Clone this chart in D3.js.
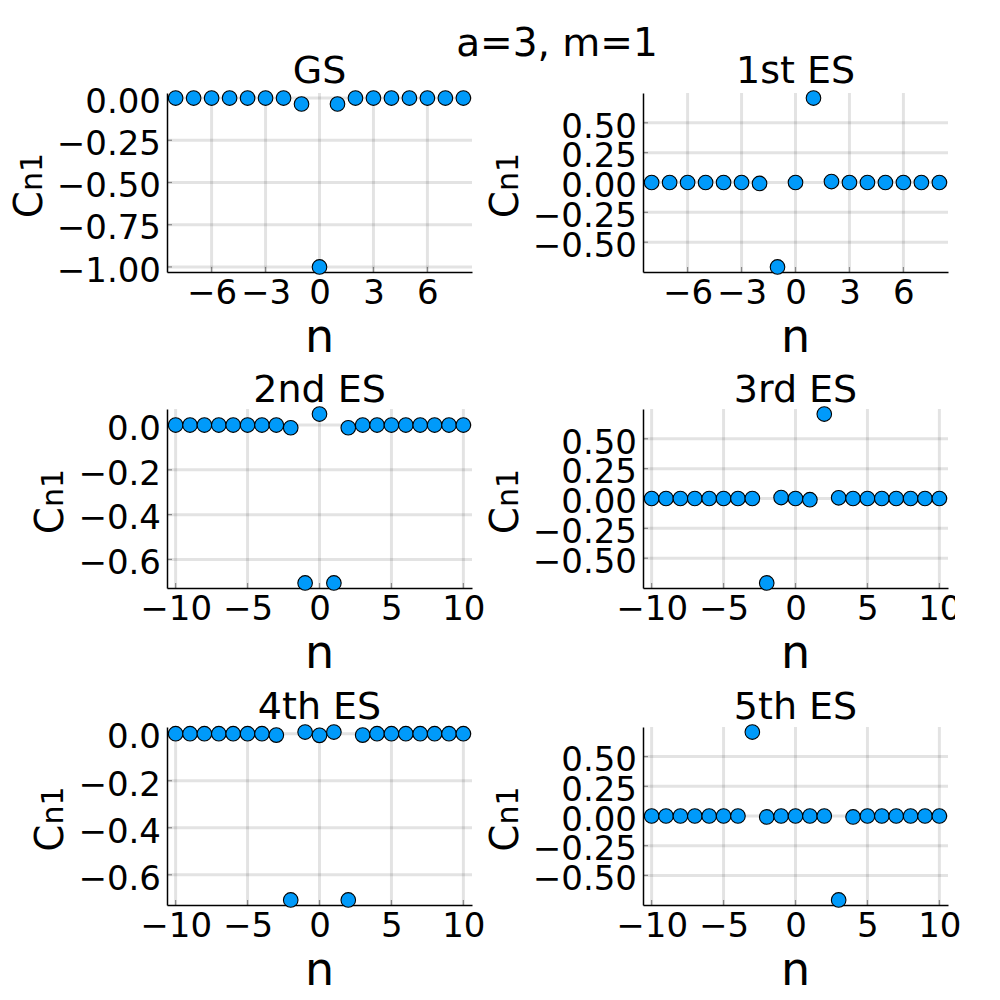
<!DOCTYPE html>
<meta charset="utf-8">
<style>
body { margin: 0; background: #fff; }
svg { display: block; font-family: "DejaVu Sans", sans-serif; }
.grid line { stroke: #000; stroke-opacity: 0.11; stroke-width: 3; }
.tick-in { stroke: #000; stroke-opacity: 0.4; stroke-width: 1.2; }
.axis path.domain { stroke: #000; stroke-width: 1.5; }
.axis text { fill: #000; font-size: 34px; font-family: "DejaVu Sans", sans-serif; }
.dot { fill: #009afa; stroke: #000; stroke-width: 1.1; }
</style>
<body>
<script src="https://d3js.org/d3.v7.min.js"></script>
<script>
'use strict';

// n values
const nShort = [-8, -7, -6, -5, -4, -3, -2, -1, 0, 1, 2, 3, 4, 5, 6, 7, 8];
const nLong = [-10, -9, -8, -7, -6, -5, -4, -3, -2, -1, 0, 1, 2, 3, 4, 5, 6, 7, 8, 9, 10];

// c_n1 for each state
const gsC  = [0, 0, 0, 0, 0, 0, 0, -0.035, -1.0, -0.035, 0, 0, 0, 0, 0, 0, 0];
const es1C = [0, 0, 0, 0, 0, 0, -0.008, -0.707, 0, 0.707, 0.008, 0, 0, 0, 0, 0, 0];
const es2C = [0, 0, 0, 0, 0, 0, 0, 0, -0.012, -0.705, 0.049, -0.705, -0.012, 0, 0, 0, 0, 0, 0, 0, 0];
const es3C = [0, 0, 0, 0, 0, 0, 0, 0, -0.707, 0.008, 0, -0.01, 0.707, 0.006, 0, 0, 0, 0, 0, 0, 0];
const es4C = [0, 0, 0, 0, 0, 0, 0, -0.006, -0.707, 0.007, -0.007, 0.007, -0.707, -0.006, 0, 0, 0, 0, 0, 0, 0];
const es5C = [0, 0, 0, 0, 0, 0, 0, 0.707, -0.008, 0, 0, 0, 0, -0.707, -0.008, 0, 0, 0, 0, 0, 0];

const titles = ["GS", "1st ES", "2nd ES", "3rd ES", "4th ES", "5th ES"];

// ticks
const xTicksShort = [-6, -3, 0, 3, 6];
const xTicksLong = [-10, -5, 0, 5, 10];
const yTicksGS = [0, -0.25, -0.5, -0.75, -1];
const yTicksSym = [-0.5, -0.25, 0, 0.25, 0.5];
const yTicksNeg = [0, -0.2, -0.4, -0.6];

const panels = [
  {title: titles[0], n: nShort, c: gsC,  xt: xTicksShort, yt: yTicksGS,  fmt: ".2f"},
  {title: titles[1], n: nShort, c: es1C, xt: xTicksShort, yt: yTicksSym, fmt: ".2f"},
  {title: titles[2], n: nLong,  c: es2C, xt: xTicksLong,  yt: yTicksNeg, fmt: ".1f"},
  {title: titles[3], n: nLong,  c: es3C, xt: xTicksLong,  yt: yTicksSym, fmt: ".2f", clipRight: 312},
  {title: titles[4], n: nLong,  c: es4C, xt: xTicksLong,  yt: yTicksNeg, fmt: ".1f"},
  {title: titles[5], n: nLong,  c: es5C, xt: xTicksLong,  yt: yTicksSym, fmt: ".2f"}
];

const colLeft = [167, 643],
      rowTop = [93, 409, 727],
      rowH = [179, 179, 178],
      titleBase = [83, 402, 719],
      plotW = 305;

const svg = d3.select("body").append("svg")
    .attr("width", 1000)
    .attr("height", 1000);

svg.append("text")
    .attr("x", 557)
    .attr("y", 56)
    .attr("text-anchor", "middle")
    .style("font-size", "39px")
    .text("a=3, m=1");

// widen by 3% each side, like the plotting default
function padded(vals) {
  const [lo, hi] = d3.extent(vals), p = (hi - lo) * 0.03;
  return [lo - p, hi + p];
}

panels.forEach(function(p, i) {
  const row = Math.floor(i / 2),
        left = colLeft[i % 2],
        top = rowTop[row],
        h = rowH[row];

  const x = d3.scaleLinear().domain(padded(p.n)).range([0, plotW]);
  const y = d3.scaleLinear().domain(padded(p.c)).range([h, 0]);
  const fmt = d3.format(p.fmt);

  const g = svg.append("g").attr("transform", "translate(" + left + "," + top + ")");

  // grid
  const grid = g.append("g").attr("class", "grid");
  grid.selectAll(".gx").data(p.xt).enter().append("line")
      .attr("x1", d => x(d)).attr("x2", d => x(d))
      .attr("y1", 0).attr("y2", h);
  grid.selectAll(".gy").data(p.yt).enter().append("line")
      .attr("y1", d => y(d)).attr("y2", d => y(d))
      .attr("x1", 0).attr("x2", plotW);

  // inner tick marks
  g.selectAll(".tx").data(p.xt).enter().append("line")
      .attr("class", "tick-in")
      .attr("x1", d => x(d)).attr("x2", d => x(d))
      .attr("y1", h).attr("y2", h - 5);
  g.selectAll(".ty").data(p.yt).enter().append("line")
      .attr("class", "tick-in")
      .attr("y1", d => y(d)).attr("y2", d => y(d))
      .attr("x1", 0).attr("x2", 5);

  // axes
  const xAxis = g.append("g")
      .attr("class", "axis")
      .attr("transform", "translate(0," + h + ")")
      .call(d3.axisBottom(x).tickValues(p.xt).tickSize(0).tickSizeOuter(0).tickPadding(8)
            .tickFormat(d => d3.format("d")(d).replace("-", "\u2212")));
  xAxis.selectAll(".tick line").remove();
  if (p.clipRight) {
    const id = "clip" + i;
    g.append("clipPath").attr("id", id).append("rect")
        .attr("x", -100).attr("y", -10).attr("width", p.clipRight + 100).attr("height", 80);
    xAxis.attr("clip-path", "url(#" + id + ")");
  }

  const yAxis = g.append("g")
      .attr("class", "axis")
      .call(d3.axisLeft(y).tickValues(p.yt).tickSize(0).tickSizeOuter(0).tickPadding(6)
            .tickFormat(d => fmt(d).replace("-", "\u2212")));
  yAxis.selectAll(".tick line").remove();
  yAxis.selectAll(".tick text").attr("dy", "0.42em");

  // points
  g.selectAll(".dot").data(p.n).enter().append("circle")
      .attr("class", "dot")
      .attr("cx", d => x(d))
      .attr("cy", (d, j) => y(p.c[j]))
      .attr("r", 7.3);

  // title
  g.append("text")
      .attr("x", plotW / 2)
      .attr("y", titleBase[row] - top)
      .attr("text-anchor", "middle")
      .style("font-size", "38px")
      .text(p.title);

  // x label
  g.append("text")
      .attr("x", plotW / 2)
      .attr("y", h + 80)
      .attr("text-anchor", "middle")
      .style("font-size", "46px")
      .text("n");

  // y label, placed left of the widest tick label
  const tickLeft = yAxis.node().getBBox().x;
  const yl = g.append("text")
      .attr("transform", "translate(" + (tickLeft - 15) + "," + (h / 2 + 3) + ") rotate(-90)")
      .attr("text-anchor", "middle");
  yl.append("tspan").style("font-size", "39px").text("C");
  yl.append("tspan").style("font-size", "30px").text("n1");
});
</script>
</body>
